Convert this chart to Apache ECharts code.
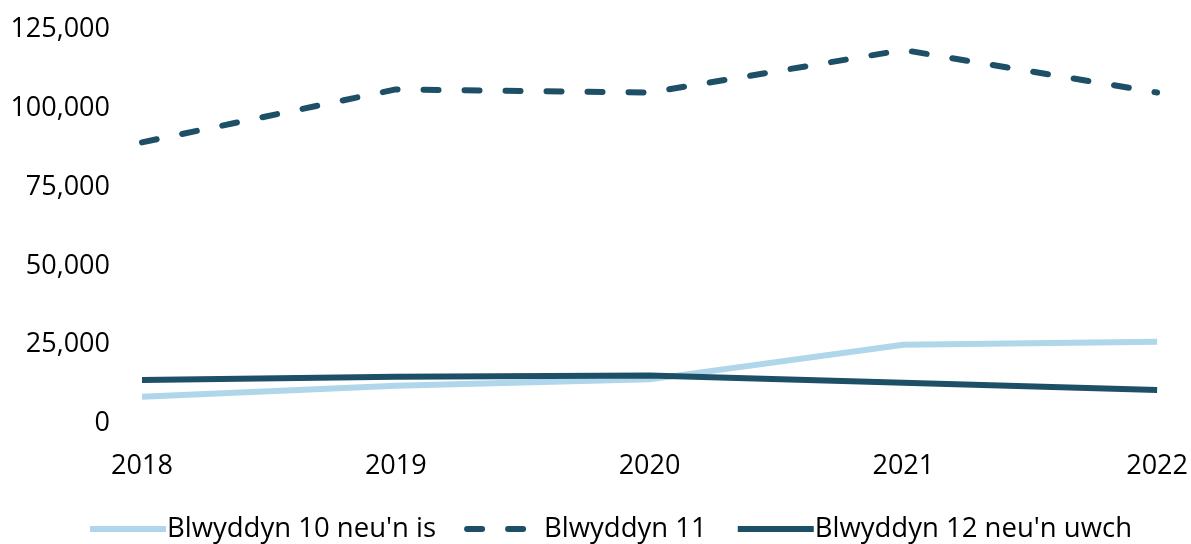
<!DOCTYPE html>
<html>
<head>
<meta charset="utf-8">
<style>
  html, body { margin: 0; padding: 0; background: #fff; }
  #chart { width: 1191px; height: 544px; }
</style>
<script src="https://cdn.jsdelivr.net/npm/echarts@6/dist/echarts.min.js"></script>
</head>
<body>
<div id="chart"></div>
<script>
  // blynyddoedd (x axis)
  const years = ['2018', '2019', '2020', '2021', '2022']
  // gwerthoedd wedi eu darllen o'r llun
  const year10OrBelow = [8500, 12000, 14000, 25000, 25900]
  const year11 = [89200, 106000, 105000, 118500, 105000]
  const year12OrAbove = [13800, 14800, 15200, 12900, 10600]
  const seriesNames = ["Blwyddyn 10 neu'n is", 'Blwyddyn 11', "Blwyddyn 12 neu'n uwch"]

  const darkBlue = '#1d4f67'
  const lightBlue = '#afd6ea'
  const font = '"Open Sans", "Noto Sans", sans-serif'

  const chart = echarts.init(document.getElementById('chart'))
  chart.setOption({
    animation: false,
    backgroundColor: '#fff',
    textStyle: { fontFamily: font },
    grid: {
      left: 142,
      right: 32,
      top: 29.5,
      bottom: 120.5
    },
    legend: {
      left: 82,
      top: 510,
      itemWidth: 76,
      itemHeight: 28,
      itemGap: 28,
      itemStyle: { opacity: 0 },      // dim symbol, dim ond y llinell
      lineStyle: { width: 6 },
      textStyle: { fontSize: 27.5, color: '#000', fontFamily: font, padding: [0, 0, 0, -4] },
      data: seriesNames
    },
    xAxis: {
      type: 'category',
      data: years,
      boundaryGap: false,
      axisLine: { show: false },   // dim llinell echelin
      axisTick: { show: false },
      axisLabel: { fontSize: 27, color: '#000', margin: 29, fontFamily: font }
    },
    yAxis: {
      type: 'value',
      min: 0,
      max: 125000,
      interval: 25000,
      splitLine: { show: false },
      axisLine: { show: false },
      axisTick: { show: false },
      axisLabel: {
        fontSize: 27,
        color: '#000',
        margin: 32,
        fontFamily: font,
        formatter: v => v.toLocaleString('en-GB')
      }
    },
    series: [{
      name: seriesNames[0],
      type: 'line',
      data: year10OrBelow,
      symbol: 'none',
      z: 1,
      itemStyle: { color: lightBlue },
      lineStyle: { color: lightBlue, width: 6 }
    }, {
      name: seriesNames[1],
      type: 'line',
      data: year11,
      symbol: 'none',
      z: 2,
      itemStyle: { color: darkBlue },
      lineStyle: { color: darkBlue, width: 6, type: [15, 26], cap: 'round' }
    }, {
      name: seriesNames[2],
      type: 'line',
      data: year12OrAbove,
      symbol: 'none',
      z: 3,
      itemStyle: { color: darkBlue },
      lineStyle: { color: darkBlue, width: 6 }
    }]
  })
</script>
</body>
</html>
